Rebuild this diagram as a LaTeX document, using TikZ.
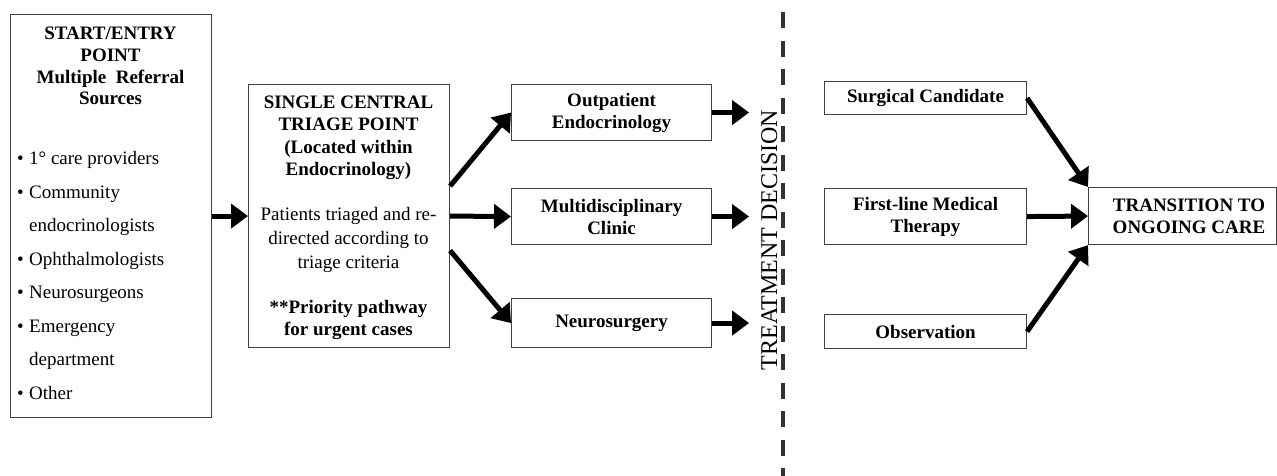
\documentclass[tikz,border=0pt]{standalone}
\usepackage{fontspec}
\setmainfont{Liberation Serif}
\usetikzlibrary{arrows.meta,calc}
\begin{document}
\begin{tikzpicture}[x=1pt,y=-1pt,
  boxed/.style={draw=black!75, line width=1.1pt, inner sep=0pt, anchor=north west, align=center,
    font=\fontsize{19}{22}\selectfont\bfseries},
  txtb/.style={inner sep=0pt, anchor=base, font=\fontsize{19}{22}\selectfont\bfseries},
  txtr/.style={inner sep=0pt, anchor=base, font=\fontsize{19}{22}\selectfont},
  itemtxt/.style={inner sep=0pt, anchor=base west, font=\fontsize{19}{22}\selectfont},
  arr/.style={line width=5pt, draw=black, -{Triangle[length=17pt,width=24pt]}},
  dashline/.style={line width=3.6pt, draw=black!80, dash pattern=on 16pt off 12.5pt}
]
\useasboundingbox (0,0) rectangle (1277,475);

% boxes
\node[boxed, minimum width=201pt, minimum height=403pt] (start) at (10,14) {};
\node[boxed, minimum width=201pt, minimum height=263pt] (triage) at (248,84) {};
\node[boxed, minimum width=200pt, minimum height=56pt] (outp) at (511,84) {Outpatient\\Endocrinology};
\node[boxed, minimum width=200pt, minimum height=56pt] (multi) at (511,188) {Multidisciplinary\\Clinic};
\node[boxed, minimum width=200pt, minimum height=49pt] (neuro) at (511,298) {Neurosurgery};
\node[boxed, minimum width=202pt, minimum height=33pt] (surg) at (824,81) {Surgical Candidate};
\node[boxed, minimum width=202pt, minimum height=56pt] (first) at (824,188) {First-line Medical\\Therapy};
\node[boxed, minimum width=202pt, minimum height=34pt] (obs) at (824,314) {Observation};
\node[boxed, minimum width=188pt, minimum height=57pt] (trans) at (1088,187) {};

% start box text
\node[txtb] (s1) at (110.5,39.5) {START/ENTRY};
\node[txtb] (s2) at (110.5,61.5) {POINT};
\node[txtb] (s3) at (110.5,83.5) {Multiple\ \ Referral};
\node[txtb] (s4) at (110.5,104) {Sources};

\node[itemtxt] (b1) at (17,164.5) {•};
\node[itemtxt] (i1) at (29,164.5) {1° care providers};
\node[itemtxt] (b2) at (17,198) {•};
\node[itemtxt] (i2) at (29,198) {Community};
\node[itemtxt] (i2b) at (29,231.5) {endocrinologists};
\node[itemtxt] (b3) at (17,265) {•};
\node[itemtxt] (i3) at (29,265) {Ophthalmologists};
\node[itemtxt] (b4) at (17,298.5) {•};
\node[itemtxt] (i4) at (29,298.5) {Neurosurgeons};
\node[itemtxt] (b5) at (17,332) {•};
\node[itemtxt] (i5) at (29,332) {Emergency};
\node[itemtxt] (i5b) at (29,365.5) {department};
\node[itemtxt] (b6) at (17,399) {•};
\node[itemtxt] (i6) at (29,399) {Other};

% triage box text
\node[txtb] (t1) at (348.5,108.5) {SINGLE CENTRAL};
\node[txtb] (t2) at (348.5,130) {TRIAGE POINT};
\node[txtb] (t3) at (348.5,153) {(Located within};
\node[txtb] (t4) at (348.5,175.5) {Endocrinology)};
\node[txtr] (t5) at (348.5,220.5) {Patients triaged and re-};
\node[txtr] (t6) at (348.5,244.5) {directed according to};
\node[txtr] (t7) at (348.5,268) {triage criteria};
\node[txtb] (t8) at (348.5,313) {**Priority pathway};
\node[txtb] (t9) at (348.5,335.5) {for urgent cases};

% transition text
\node[txtb] (r1) at (1189,211) {TRANSITION TO};
\node[txtb] (r2) at (1189,233) {ONGOING CARE};

% treatment decision
\coordinate (dtop) at (783,12);
\coordinate (dbot) at (783,480);
\draw[dashline] (dtop) -- (dbot);
\node[rotate=90, anchor=base, inner sep=0pt, font=\fontsize{24}{28}\selectfont] (td) at (777,240) {TREATMENT DECISION};

% arrows
\draw[arr] (start.east) -- (triage.west);
\draw[arr] ($(triage.east)+(0,-30)$) -- (outp.west);
\draw[arr] (triage.east) -- (multi.west);
\draw[arr] ($(triage.east)+(0,34.5)$) -- (neuro.west);
\coordinate (o1) at ($(outp.east)+(37,0)$);
\coordinate (o2) at ($(multi.east)+(37,0)$);
\coordinate (o3) at ($(neuro.east)+(37,0)$);
\draw[arr] (outp.east) -- (o1);
\draw[arr] (multi.east) -- (o2);
\draw[arr] (neuro.east) -- (o3);
\draw[arr] (surg.east) -- (trans.north west);
\draw[arr] (first.east) -- (trans.west);
\draw[arr] (obs.east) -- (trans.south west);
\end{tikzpicture}
\end{document}
